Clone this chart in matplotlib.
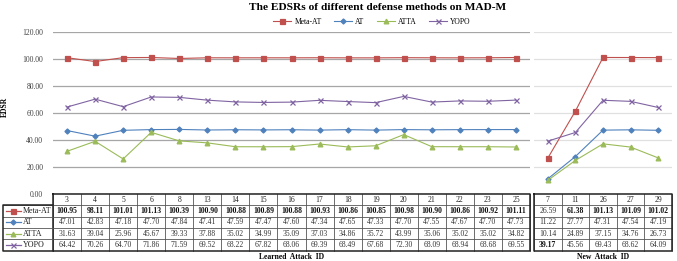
import matplotlib
matplotlib.use('Agg')
import matplotlib.pyplot as plt
import numpy as np

plt.rcParams['font.family'] = ['Liberation Serif', 'DejaVu Serif']

learned_ids = ['3', '4', '5', '6', '8', '13', '14', '15', '16', '17', '18', '19', '20', '21', '22', '23', '25']
new_ids = ['7', '11', '26', '27', '29']

methods = ['Meta-AT', 'AT', 'ATTA', 'YOPO']

meta_at_learned = [100.95, 98.11, 101.01, 101.13, 100.39, 100.90, 100.88, 100.89, 100.88, 100.93,
                   100.86, 100.85, 100.98, 100.90, 100.86, 100.92, 101.11]
at_learned = [47.01, 42.83, 47.18, 47.70, 47.84, 47.41, 47.59, 47.47, 47.60, 47.34,
              47.65, 47.33, 47.70, 47.55, 47.67, 47.70, 47.73]
atta_learned = [31.63, 39.04, 25.96, 45.67, 39.33, 37.88, 35.02, 34.99, 35.09, 37.03,
                34.86, 35.72, 43.99, 35.06, 35.02, 35.02, 34.82]
yopo_learned = [64.42, 70.26, 64.70, 71.86, 71.59, 69.52, 68.22, 67.82, 68.06, 69.39,
                68.49, 67.68, 72.30, 68.09, 68.94, 68.68, 69.55]

meta_at_new = [26.59, 61.38, 101.13, 101.09, 101.02]
at_new = [11.22, 27.77, 47.31, 47.54, 47.19]
atta_new = [10.14, 24.89, 37.15, 34.76, 26.73]
yopo_new = [39.17, 45.56, 69.43, 68.62, 64.09]

colors = ['#C0504D', '#4F81BD', '#9BBB59', '#8064A2']
markers = ['s', 'D', '^', 'x']
msizes = [3.6, 2.6, 3.4, 3.6]

W, H = 677, 261
fig = plt.figure(figsize=(W / 100, H / 100), dpi=100)

ax_bottom = 194
ax_top = 32
ax_h = ax_bottom - ax_top
ax1 = fig.add_axes([53 / W, 1 - ax_bottom / H, 477 / W, ax_h / H])
ax2 = fig.add_axes([534 / W, 1 - ax_bottom / H, 138 / W, ax_h / H])

row_h = 11.3 / ax_h


def draw_panel(ax, ids, series, grid_color, show_labels, xlabel):
    n = len(ids)
    x = np.arange(n)
    for vals, c, m, ms in zip(series, colors, markers, msizes):
        ax.plot(x, vals, color=c, lw=0.8, marker=m, ms=ms, mec=c, mfc=c, mew=0.9, zorder=3)
    ax.set_xlim(-0.5, n - 0.5)
    ax.set_ylim(0, 120)
    ax.set_yticks(np.arange(0, 121, 20))
    if show_labels:
        ax.set_yticklabels([f'{v:.2f}' for v in np.arange(0, 121, 20)], fontsize=5.5, color='#404040')
    else:
        ax.set_yticklabels([])
    ax.tick_params(length=0, pad=7)
    ax.set_xticks([])
    ax.yaxis.grid(True, color=grid_color, lw=0.9)
    ax.set_axisbelow(True)
    for s in ax.spines.values():
        s.set_visible(False)

    # table under the plot
    tr = ax.transAxes
    nrows = 5
    bottom = -nrows * row_h
    for i in range(n + 1):
        ax.plot([i / n, i / n], [0, bottom], color='#555555', lw=0.6, transform=tr, clip_on=False)
    for r in range(1, nrows):
        ax.plot([0, 1], [-r * row_h, -r * row_h], color='#555555', lw=0.6, transform=tr, clip_on=False)
    ax.plot([0, 1, 1, 0, 0], [0, 0, bottom, bottom, 0], color='#222222', lw=1.1,
            transform=tr, clip_on=False)
    for i, lab in enumerate(ids):
        ax.text((i + 0.5) / n, -0.5 * row_h, lab, ha='center', va='center', fontsize=5.5,
                transform=tr, color='#222222')
    arr = np.array(series)
    col_max = arr.max(axis=0)
    for r, vals in enumerate(series):
        for i, v in enumerate(vals):
            bold = v == col_max[i]
            ax.text((i + 0.5) / n, -(r + 1.5) * row_h, f'{v:.2f}', ha='center', va='center',
                    fontsize=5.5, fontweight='bold' if bold else 'normal',
                    color='#111111' if bold else '#333333', transform=tr)
    ax.text(0.5, bottom - 0.55 * row_h, xlabel, ha='center', va='center', fontsize=5.5,
            fontweight='bold', transform=tr)


draw_panel(ax1, learned_ids, [meta_at_learned, at_learned, atta_learned, yopo_learned],
           '#A6A6A6', True, 'Learned  Attack  ID')
draw_panel(ax2, new_ids, [meta_at_new, at_new, atta_new, yopo_new],
           '#E0E0E0', False, 'New  Attack  ID')

# row label column of the left table
tr = ax1.transAxes
lab_left = -50 / 477
bottom = -5 * row_h
for r in range(1, 5):
    ax1.plot([lab_left, 0], [-r * row_h, -r * row_h], color='#555555', lw=0.6, transform=tr, clip_on=False)
ax1.plot([0, lab_left, lab_left, 0], [-row_h, -row_h, bottom, bottom], color='#222222', lw=1.1,
         transform=tr, clip_on=False)
for r, (name, c, m, ms) in enumerate(zip(methods, colors, markers, msizes)):
    yy = -(r + 1.5) * row_h
    x0 = lab_left + 3 / 477
    x1 = lab_left + 18 / 477
    ax1.plot([x0, x1], [yy, yy], color=c, lw=0.9, transform=tr, clip_on=False)
    ax1.plot([(x0 + x1) / 2], [yy], color=c, marker=m, ms=ms, mec=c, mfc=c, mew=0.9,
             transform=tr, clip_on=False)
    ax1.text(lab_left + 20 / 477, yy, name, ha='left', va='center', fontsize=5.8,
             color='#222222', transform=tr)

fig.text(5 / W, 1 - 107 / H, 'EDSR', rotation=90, ha='center', va='center',
         fontsize=5.5, fontweight='bold')

fig.text(378 / W, 1 - 8 / H, 'The EDSRs of different defense methods on MAD-M', ha='center',
         va='center', fontsize=8.2, fontweight='bold')

handles = ax1.get_lines()[:4]
fig.legend(handles, methods, loc='center', bbox_to_anchor=(372 / W, 1 - 22 / H), ncol=4,
           frameon=False, fontsize=5.5, handlelength=2.4, columnspacing=1.6, handletextpad=0.4)

fig.savefig('out.png', dpi=100)
